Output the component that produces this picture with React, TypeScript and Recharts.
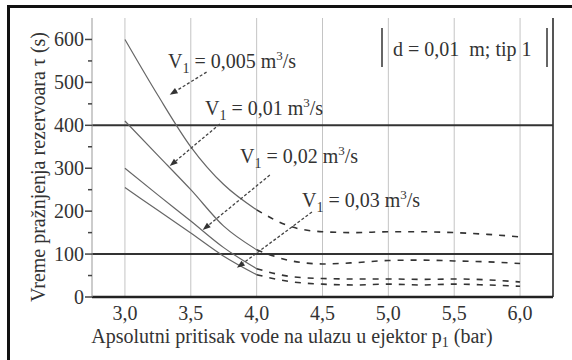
import React from "react"
import {
  ComposedChart,
  Line,
  XAxis,
  YAxis,
  CartesianGrid,
  ReferenceLine,
} from "recharts"

// absolute pressure at ejector inlet p1 (bar)
const pressure = [3.0, 3.25, 3.5, 3.75, 4.0, 4.25, 4.5, 4.75, 5.0, 5.25, 5.5, 5.75, 6.0]

// tank emptying time (s) for each flow rate V1
const v0005 = [600, 470, 350, 262, 203, 165, 152, 150, 152, 152, 150, 146, 140]
const v001 = [410, 330, 250, 165, 110, 85, 77, 80, 85, 86, 84, 82, 78]
const v002 = [300, 238, 177, 115, 66, 48, 43, 42, 42, 41, 42, 40, 35]
const v003 = [255, 202, 149, 95, 52, 36, 30, 28, 30, 28, 30, 28, 25]

const xTicks = [3.0, 3.5, 4.0, 4.5, 5.0, 5.5, 6.0]
const yTicks = [0, 50, 100, 150, 200, 250, 300, 350, 400, 450, 500, 550, 600]
const limitLines = [400, 100]

// arrows from curve labels: [from p, from t, to p, to t]
const arrows = [
  [3.62, 524, 3.34, 471],
  [3.72, 403, 3.34, 305],
  [4.1, 284, 3.59, 156],
  [4.42, 198, 3.85, 68],
]

const flowLabels = [
  { q: "0,005", left: 168, top: 44 },
  { q: "0,01", left: 205, top: 91 },
  { q: "0,02", left: 240, top: 139 },
  { q: "0,03", left: 302, top: 183 },
]

const series = [
  { key: "a", values: v0005 },
  { key: "b", values: v001 },
  { key: "c", values: v002 },
  { key: "d", values: v003 },
]

const rows = pressure.map((p, i) => {
  const row: Record<string, number | null> = { p }
  series.forEach((s) => {
    row[s.key] = p <= 4.0 ? s.values[i] : null
    row[s.key + "Dot"] = p >= 4.0 ? s.values[i] : null
  })
  return row
})

const serif = "'Liberation Serif', 'Times New Roman', serif"
const txt = { fontFamily: serif }
const fmt = (v: number) => v.toFixed(1).replace(".", ",")

const YTick = (props: any) => {
  const { x, y, payload } = props
  const major = payload.value % 100 === 0
  return (
    <g>
      <line x1={x - (major ? 7 : 4)} x2={x} y1={y} y2={y} stroke="#444" strokeWidth={1.5} />
      {major && (
        <text x={x - 8} y={y + 7} textAnchor="end" fontSize={20} fill="#333" style={txt}>
          {payload.value}
        </text>
      )}
    </g>
  )
}

const XTick = (props: any) => {
  const { x, y, payload } = props
  return (
    <text x={x} y={y + 23} textAnchor="middle" fontSize={20} fill="#333" style={txt}>
      {fmt(payload.value)}
    </text>
  )
}

const Arrow = (props: any) => {
  const { x1, y1, x2, y2 } = props
  const ang = Math.atan2(y2 - y1, x2 - x1)
  const len = 8
  const w = 3
  const bx = x2 - len * Math.cos(ang)
  const by = y2 - len * Math.sin(ang)
  const px = -Math.sin(ang) * w
  const py = Math.cos(ang) * w
  return (
    <g>
      <line x1={x1} y1={y1} x2={bx} y2={by} stroke="#444" strokeWidth={1.3} strokeDasharray="3 2" />
      <polygon points={`${x2},${y2} ${bx + px},${by + py} ${bx - px},${by - py}`} fill="#333" />
    </g>
  )
}

export default function App() {
  return (
    <div
      style={{
        position: "fixed",
        left: 0,
        top: 0,
        width: 572,
        height: 360,
        background: "#fff",
        fontFamily: serif,
        overflow: "hidden",
      }}
    >
      <div
        style={{
          position: "absolute",
          left: 7,
          top: 5,
          width: 600,
          height: 400,
          borderTop: "3px solid #111",
          borderLeft: "3px solid #111",
        }}
      />
      <ComposedChart
        width={572}
        height={360}
        data={rows}
        margin={{ top: 18, right: 19, bottom: 33, left: 32 }}
        style={{ position: "absolute", left: 0, top: 0 }}
      >
        <CartesianGrid horizontal={false} stroke="#c4c4c4" verticalValues={xTicks} />
        <XAxis
          dataKey="p"
          type="number"
          domain={[2.75, 6.25]}
          ticks={xTicks}
          tick={<XTick />}
          tickSize={0}
          tickMargin={0}
          tickLine={false}
          height={30}
          stroke="#222"
          strokeWidth={2.5}
          allowDataOverflow
        />
        <YAxis
          type="number"
          domain={[0, 650]}
          ticks={yTicks}
          tick={<YTick />}
          tickSize={0}
          tickMargin={0}
          tickLine={false}
          width={60}
          stroke="#999"
          interval={0}
          allowDataOverflow
        />
        <ReferenceLine x={6.25} stroke="#555" strokeWidth={2} />
        {limitLines.map((v) => (
          <ReferenceLine key={v} y={v} stroke="#333" strokeWidth={2} />
        ))}
        {series.map((s) => (
          <Line
            key={s.key}
            dataKey={s.key}
            type="monotone"
            stroke="#666"
            strokeWidth={1.2}
            dot={false}
            isAnimationActive={false}
          />
        ))}
        {series.map((s) => (
          <Line
            key={s.key + "Dot"}
            dataKey={s.key + "Dot"}
            type="monotone"
            stroke="#333"
            strokeWidth={1.6}
            strokeDasharray="6 7"
            dot={false}
            isAnimationActive={false}
          />
        ))}
        {arrows.map((a, i) => (
          <ReferenceLine
            key={i}
            segment={[
              { x: a[0], y: a[1] },
              { x: a[2], y: a[3] },
            ]}
            shape={<Arrow />}
          />
        ))}
      </ComposedChart>

      {flowLabels.map((l) => (
        <div
          key={l.q}
          style={{ position: "absolute", left: l.left, top: l.top, fontSize: 20, color: "#333", whiteSpace: "nowrap", lineHeight: "24px" }}
        >
          V<sub style={{ fontSize: 14, color: "#333" }}>1</sub> = {l.q} m<sup style={{ fontSize: 13 }}>3</sup>/s
        </div>
      ))}

      <div style={{ position: "absolute", left: 381, top: 28, width: 2, height: 39, background: "#666" }} />
      <div style={{ position: "absolute", left: 546, top: 28, width: 2, height: 39, background: "#666" }} />
      <div
        style={{ position: "absolute", left: 393, top: 37, fontSize: 20, color: "#333", whiteSpace: "pre", lineHeight: "24px" }}
      >
        d = 0,01  m; tip 1
      </div>

      <svg width={572} height={360} style={{ position: "absolute", left: 0, top: 0, pointerEvents: "none" }}>
        <text x={292} y={343} textAnchor="middle" fontSize={20} fill="#333" style={txt}>
          Apsolutni pritisak vode na ulazu u ejektor p
          <tspan fontSize={14} dy={4}>1</tspan>
          <tspan dy={-4}> (bar)</tspan>
        </text>
        <text
          x={45}
          y={167}
          textAnchor="middle"
          fontSize={20}
          fill="#333"
          style={txt}
          transform="rotate(-90, 45, 167)"
        >
          Vreme pražnjenja rezervoara τ (s)
        </text>
      </svg>
    </div>
  )
}
